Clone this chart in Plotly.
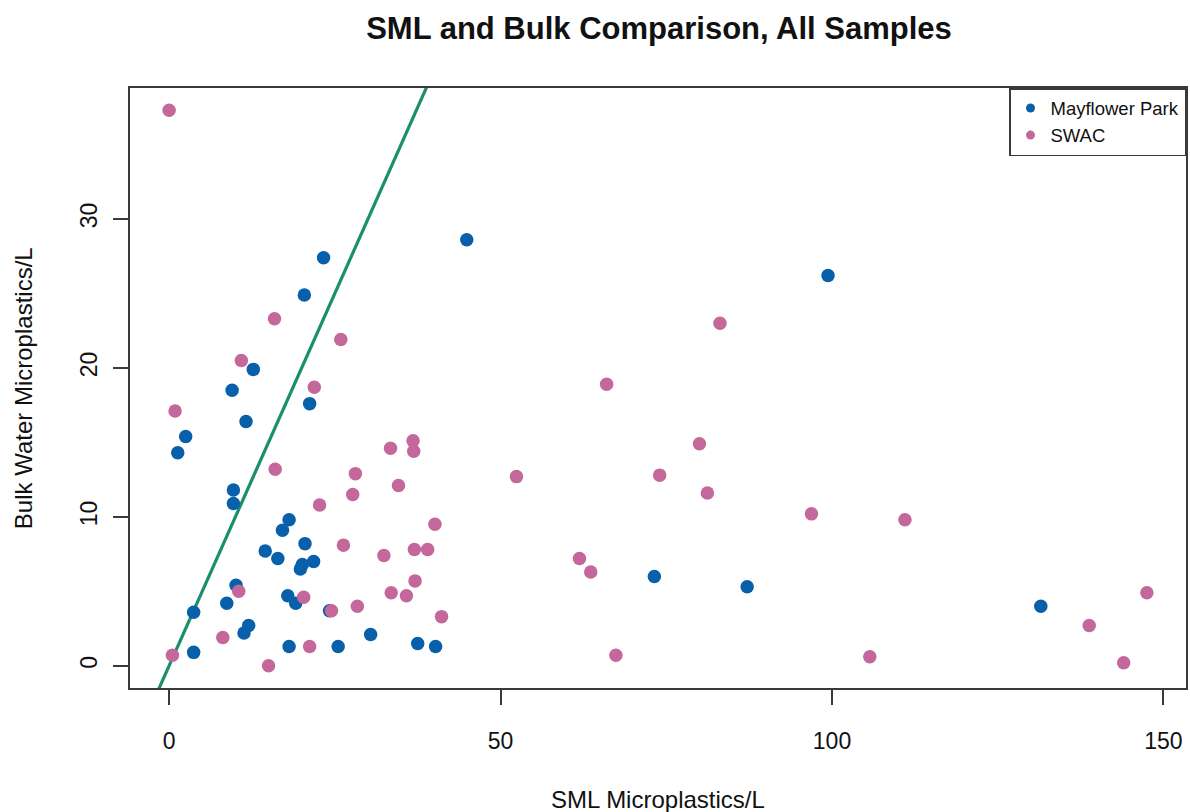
import plotly.graph_objects as go

# Mayflower Park samples (SML vs Bulk)
mayflower_x = [9.5, 21.2, 11.6, 2.5, 1.3, 9.7, 9.7, 18.1, 17.1, 20.5, 14.5, 16.4, 21.8, 20.1, 19.8,
               10.1, 17.9, 19.1, 8.7, 3.7, 24.2, 12.0, 11.3, 30.4, 18.1, 25.5, 37.5, 40.2, 3.7,
               23.3, 20.4, 12.7, 44.9, 99.4, 73.2, 87.2, 131.5]
mayflower_y = [18.5, 17.6, 16.4, 15.4, 14.3, 11.8, 10.9, 9.8, 9.1, 8.2, 7.7, 7.2, 7.0, 6.8, 6.5,
               5.4, 4.7, 4.2, 4.2, 3.6, 3.7, 2.7, 2.2, 2.1, 1.3, 1.3, 1.5, 1.3, 0.9,
               27.4, 24.9, 19.9, 28.6, 26.2, 6.0, 5.3, 4.0]

# SWAC samples
swac_x = [21.9, 0.9, 36.8, 33.4, 36.9, 16.0, 28.1, 34.6, 27.7, 22.7, 40.1, 26.3, 32.4, 37.0, 39.0,
          37.1, 10.5, 33.5, 35.8, 20.3, 24.5, 28.4, 41.1, 8.1, 21.2, 0.5, 15.0, 0.0, 15.9, 25.9,
          10.9, 83.1, 66.0, 80.0, 52.4, 74.0, 81.2, 96.9, 61.9, 63.6, 67.4, 105.7, 111.0, 147.5,
          138.8, 144.0]
swac_y = [18.7, 17.1, 15.1, 14.6, 14.4, 13.2, 12.9, 12.1, 11.5, 10.8, 9.5, 8.1, 7.4, 7.8, 7.8,
          5.7, 5.0, 4.9, 4.7, 4.6, 3.7, 4.0, 3.3, 1.9, 1.3, 0.7, 0.0, 37.3, 23.3, 21.9,
          20.5, 23.0, 18.9, 14.9, 12.7, 12.8, 11.6, 10.2, 7.2, 6.3, 0.7, 0.6, 9.8, 4.9,
          2.7, 0.2]

x_ticks = [0, 50, 100, 150]
y_ticks = [0, 10, 20, 30]
one_to_one = [-10, 170]  # reference line y = x

BLUE = "#0760A9"
PINK = "#C4679A"
GREEN = "#1B8F6C"
FONT = "Liberation Sans, Arial, Helvetica, sans-serif"

def padded(vals, frac=0.04):
    lo, hi = min(vals), max(vals)
    d = (hi - lo) * frac
    return [lo - d, hi + d]

xr = padded(mayflower_x + swac_x)
yr = padded(mayflower_y + swac_y)

fig = go.Figure()
fig.add_trace(go.Scatter(x=one_to_one, y=one_to_one, mode="lines",
                         line=dict(color=GREEN, width=3.2), showlegend=False, hoverinfo="skip"))
fig.add_trace(go.Scatter(x=mayflower_x, y=mayflower_y, mode="markers",
                         marker=dict(color=BLUE, size=13.5), showlegend=False, name="Mayflower Park"))
fig.add_trace(go.Scatter(x=swac_x, y=swac_y, mode="markers",
                         marker=dict(color=PINK, size=13.5), showlegend=False, name="SWAC"))
# legend entries (smaller symbols, as in the reference)
fig.add_trace(go.Scatter(x=[None], y=[None], mode="markers", name="Mayflower Park",
                         marker=dict(color=BLUE, size=9)))
fig.add_trace(go.Scatter(x=[None], y=[None], mode="markers", name="SWAC",
                         marker=dict(color=PINK, size=9)))

axis_common = dict(showgrid=False, zeroline=False, showline=True, mirror=True,
                   linecolor="#3a3a3a", linewidth=2, ticks="outside", tickcolor="#3a3a3a",
                   tickwidth=2, ticklen=15, tickfont=dict(family=FONT, size=23, color="#111"))

fig.update_layout(
    width=1190, height=812,
    margin=dict(l=130, r=2, t=88, b=124),
    paper_bgcolor="white", plot_bgcolor="white",
    font=dict(family=FONT, color="#111"),
    title=dict(text="<b>SML and Bulk Comparison, All Samples</b>",
               x=659 / 1190, xanchor="center", y=1 - 28 / 812, yanchor="middle",
               font=dict(family=FONT, size=31, color="#111")),
    xaxis=dict(range=xr, tickvals=x_ticks, ticklabelstandoff=16, **axis_common),
    yaxis=dict(range=yr, tickvals=y_ticks, tickangle=-90, ticklabelstandoff=7, **axis_common),
    legend=dict(x=1, y=1, xanchor="right", yanchor="top", bgcolor="white",
                bordercolor="#3a3a3a", borderwidth=1.5,
                font=dict(family=FONT, size=18.5, color="#111"),
                tracegroupgap=0, itemwidth=30),
    annotations=[
        dict(text="SML Microplastics/L", xref="paper", yref="paper", x=0.5, y=-(799 - 688) / 600,
             xanchor="center", yanchor="middle", showarrow=False,
             font=dict(family=FONT, size=24, color="#111")),
        dict(text="Bulk Water Microplastics/L", xref="paper", yref="paper",
             x=-(130 - 23) / 1058, y=0.5, xanchor="center", yanchor="middle",
             textangle=-90, showarrow=False, font=dict(family=FONT, size=24, color="#111")),
    ],
)

fig.write_html("out.html")
